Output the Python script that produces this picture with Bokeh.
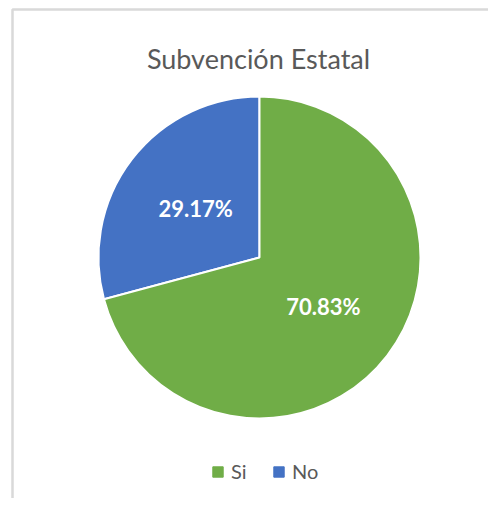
import math
from bokeh.plotting import figure
from bokeh.models import Range1d, ColumnDataSource, Legend, LegendItem, Label
from bokeh.core.properties import value
from bokeh.embed import file_html
from bokeh.resources import INLINE

title_text = "Subvención Estatal"
categories = ["Si", "No"]
values = [70.83, 29.17]
colors = ["#70AD47", "#4472C4"]

FONT = "Lato"
H = 498  # canvas height; data y = H - picture y

# pie geometry
cx, cy, R = 259, H - 257, 161

total = sum(values)
# "No" starts at 12 o'clock going counter-clockwise, "Si" takes the rest
order = [1, 0]
start, end, lx, ly, txt, col, lab = [], [], [], [], [], [], []
a = math.pi / 2
for i in order:
    span = 2 * math.pi * values[i] / total
    s, e = a, a + span
    start.append(s)
    end.append(e)
    mid = (s + e) / 2
    lx.append(cx + 0.5 * R * math.cos(mid))
    ly.append(cy + 0.5 * R * math.sin(mid))
    txt.append(f"{values[i]:.2f}%")
    col.append(colors[i])
    lab.append(categories[i])
    a = e

src = ColumnDataSource(dict(start=start, end=end, color=col, label=lab,
                            lx=lx, ly=ly, txt=txt))

p = figure(width=488, height=H, output_backend="svg", toolbar_location=None,
           x_range=Range1d(0, 488), y_range=Range1d(0, H), min_border=0,
           background_fill_color="white", border_fill_color="white")
p.axis.visible = False
p.grid.visible = False
p.outline_line_color = None

# chart-area frame (top and left edges visible in the crop)
p.line(x=[12, 12, 488], y=[0, H - 9, H - 9], line_color="#D9D9D9", line_width=2.5)

r = p.wedge(x=cx, y=cy, radius=R, start_angle="start", end_angle="end",
            fill_color="color", line_color="white", line_width=2, source=src)

p.text(x="lx", y="ly", text="txt", source=src, text_color="white",
       text_font=value(FONT), text_font_style="bold", text_font_size="22px",
       text_align="center", text_baseline="middle")

p.add_layout(Label(x=258, y=H - 58, text=title_text, text_font=FONT,
                   text_font_size="27px", text_color="#595959",
                   text_align="center", text_baseline="alphabetic"))

# square legend keys (renderers with no drawable area, used only for the legend)
nan = float("nan")
items = []
for i, c in enumerate(categories):
    key = p.quad(left=[nan], right=[nan], bottom=[nan], top=[nan],
                 fill_color=colors[i], line_color=colors[i])
    items.append(LegendItem(label=c, renderers=[key]))

legend = Legend(items=items, orientation="horizontal", location=(211, 15),
                padding=0, margin=0, spacing=21, label_standoff=7,
                glyph_width=13, glyph_height=13, border_line_color=None,
                background_fill_alpha=0, label_text_font=FONT,
                label_text_font_size="20px", label_text_color="#595959",
                label_height=20)
p.add_layout(legend, "center")

open("out.html", "w").write(file_html(p, INLINE))
